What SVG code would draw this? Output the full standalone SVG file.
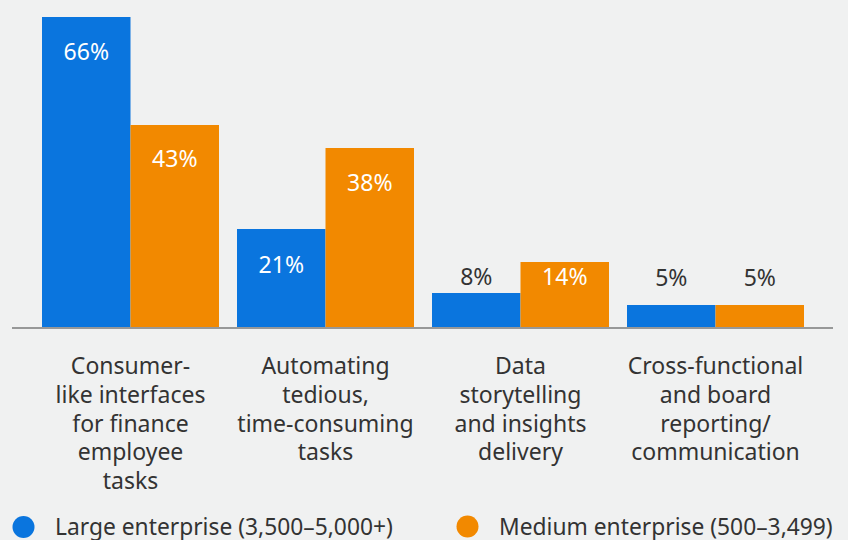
<svg xmlns="http://www.w3.org/2000/svg" width="848" height="540" viewBox="0 0 848 540">
<style>
.bl{fill:#0a75de}
.or{fill:#f28900}
.v{font-family:"Noto Sans","Open Sans",sans-serif;font-size:23px;text-anchor:middle}
.w{fill:#ffffff}
.d{fill:#333333}
.c{font-family:"Noto Sans","Open Sans",sans-serif;font-size:23px;text-anchor:middle;fill:#333333}
.lg{font-family:"Noto Sans","Open Sans",sans-serif;font-size:22.8px;fill:#333333}
</style>
<rect width="848" height="540" fill="#f0f1f1"/>
<g id="group1">
<rect class="bl" x="42" y="17" width="88.5" height="310"/>
<rect class="or" x="130.5" y="125" width="88.5" height="202"/>
<text class="v w" x="86.3" y="60">66%</text>
<text class="v w" x="174.8" y="167">43%</text>
<text class="c" x="130.5" y="374">Consumer-</text>
<text class="c" x="130.5" y="403">like interfaces</text>
<text class="c" x="130.5" y="431.5">for finance</text>
<text class="c" x="130.5" y="460">employee</text>
<text class="c" x="130.5" y="488.5">tasks</text>
</g>
<g id="group2">
<rect class="bl" x="237" y="229" width="88.5" height="98"/>
<rect class="or" x="325.5" y="148" width="88.5" height="179"/>
<text class="v w" x="281.3" y="272.5">21%</text>
<text class="v w" x="369.8" y="191">38%</text>
<text class="c" x="325.5" y="374">Automating</text>
<text class="c" x="325.5" y="403">tedious,</text>
<text class="c" x="325.5" y="431.5">time-consuming</text>
<text class="c" x="325.5" y="460">tasks</text>
</g>
<g id="group3">
<rect class="bl" x="432" y="293" width="88.5" height="34"/>
<rect class="or" x="520.5" y="262" width="88.5" height="65"/>
<text class="v d" x="476.3" y="285">8%</text>
<text class="v w" x="564.8" y="285">14%</text>
<text class="c" x="520.5" y="374">Data</text>
<text class="c" x="520.5" y="403">storytelling</text>
<text class="c" x="520.5" y="431.5">and insights</text>
<text class="c" x="520.5" y="460">delivery</text>
</g>
<g id="group4">
<rect class="bl" x="627" y="305" width="88.5" height="22"/>
<rect class="or" x="715.5" y="305" width="88.5" height="22"/>
<text class="v d" x="671.3" y="285.5">5%</text>
<text class="v d" x="759.8" y="285.5">5%</text>
<text class="c" x="715.5" y="374">Cross-functional</text>
<text class="c" x="715.5" y="403">and board</text>
<text class="c" x="715.5" y="431.5">reporting/</text>
<text class="c" x="715.5" y="460">communication</text>
</g>
<g id="axis">
<line x1="12" y1="328" x2="833" y2="328" stroke="#7a7a7a" stroke-width="1.6"/>
</g>
<g id="legend">
<circle class="bl" cx="23.5" cy="527" r="11"/>
<text class="lg" x="55" y="535">Large enterprise (3,500–5,000+)</text>
<circle class="or" cx="467.5" cy="526.5" r="11"/>
<text class="lg" x="499" y="535">Medium enterprise (500–3,499)</text>
</g>
</svg>
